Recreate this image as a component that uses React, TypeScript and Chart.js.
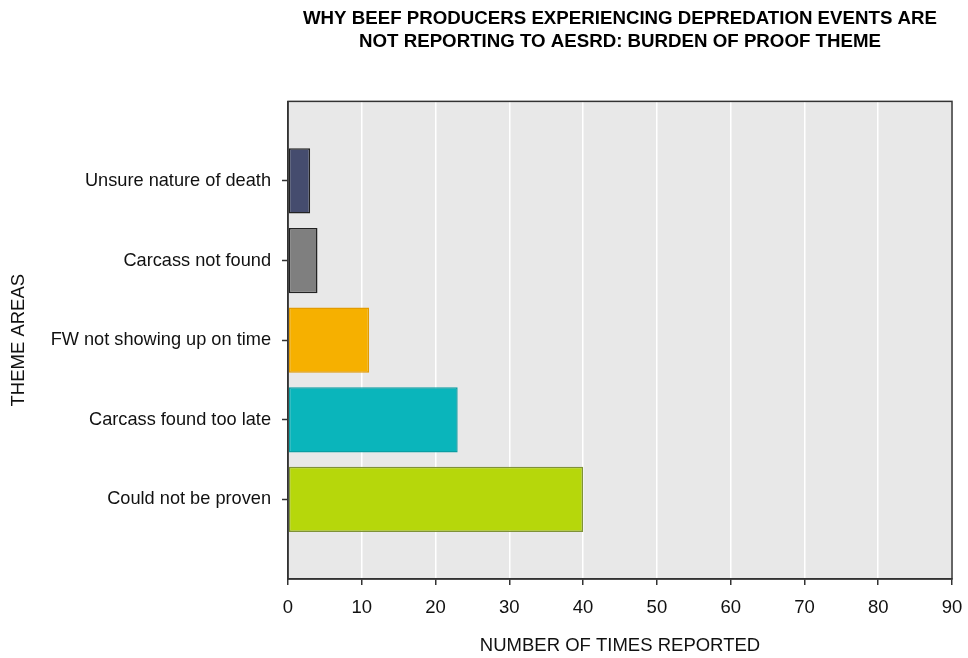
import React, { useEffect, useRef } from 'react';
import { Chart, registerables } from 'chart.js';

Chart.register(...registerables);

const TITLE_LINES = [
  'WHY BEEF PRODUCERS EXPERIENCING DEPREDATION EVENTS ARE',
  'NOT REPORTING TO AESRD: BURDEN OF PROOF THEME',
];
const CATEGORIES = [
  'Unsure nature of death',
  'Carcass not found',
  'FW not showing up on time',
  'Carcass found too late',
  'Could not be proven',
];
const VALUES = [3, 4, 11, 23, 40];
const BAR_COLORS = ['#454c6e', '#7f7f7f', '#f6b000', '#0ab5bb', '#b6d70b'];
const BAR_BORDERS = ['#222222', '#222222', '#e39b00', '#0a9ea3', '#7f9236'];
const X_MIN = 0;
const X_MAX = 90;
const X_STEP = 10;
const X_TITLE = 'NUMBER OF TIMES REPORTED';
const Y_TITLE = 'THEME AREAS';

const FONT = "'Liberation Sans', Arial, Helvetica, sans-serif";

const plotFrame = {
  id: 'plotFrame',
  beforeDraw(chart: any) {
    const { ctx, chartArea: a } = chart;
    ctx.save();
    ctx.fillStyle = '#e8e8e8';
    ctx.fillRect(a.left, a.top, a.right - a.left, a.bottom - a.top);
    ctx.restore();
  },
  afterDatasetsDraw(chart: any) {
    const { ctx, chartArea: a } = chart;
    ctx.save();
    ctx.strokeStyle = '#333333';
    ctx.lineWidth = 1.5;
    ctx.strokeRect(a.left, a.top, a.right - a.left, a.bottom - a.top);
    ctx.restore();
  },
};

export default function App() {
  const ref = useRef<HTMLCanvasElement | null>(null);

  useEffect(() => {
    document.body.style.margin = '0';
    const canvas = ref.current;
    if (!canvas) return;
    const labels = ['', ...CATEGORIES, ''];
    const data = [null, ...VALUES, null];
    const bg = ['transparent', ...BAR_COLORS, 'transparent'];
    const bd = ['transparent', ...BAR_BORDERS, 'transparent'];
    const chart = new Chart(canvas, {
      type: 'bar',
      data: {
        labels,
        datasets: [
          {
            data: data as any,
            backgroundColor: bg,
            borderColor: bd,
            borderWidth: 1.5,
            borderSkipped: false,
            barPercentage: 0.82,
            categoryPercentage: 1,
          },
        ],
      },
      options: {
        indexAxis: 'y',
        responsive: false,
        animation: false,
        devicePixelRatio: 1,
        layout: { padding: { left: 0, right: 16, top: 0, bottom: 0 } },
        plugins: {
          legend: { display: false },
          tooltip: { enabled: false },
          title: {
            display: true,
            text: TITLE_LINES,
            fullSize: false,
            color: '#000000',
            font: { family: FONT, size: 18.7, weight: 'bold', lineHeight: 1.24 },
            padding: { top: 7, bottom: 48 },
          },
        },
        scales: {
          x: {
            type: 'linear',
            min: X_MIN,
            max: X_MAX,
            ticks: {
              stepSize: X_STEP,
              color: '#111111',
              font: { family: FONT, size: 18.5 },
              padding: 12,
            },
            grid: {
              color: '#ffffff',
              lineWidth: 1.5,
              tickColor: '#333333',
              tickLength: 6,
              tickWidth: 1.5,
            },
            border: { color: '#333333', width: 1.5 },
            title: {
              display: true,
              text: X_TITLE,
              color: '#111111',
              font: { family: FONT, size: 18.5 },
              padding: { top: 0, bottom: 1 },
            },
            afterFit(scale: any) {
              scale.height = 79;
              scale.paddingLeft = 0;
              scale.paddingRight = 0;
            },
          },
          y: {
            type: 'category',
            offset: false,
            ticks: {
              color: '#111111',
              font: { family: FONT, size: 18.2 },
              padding: 11,
              autoSkip: false,
            },
            grid: {
              offset: false,
              drawOnChartArea: false,
              tickColor: '#333333',
              tickLength: 6,
              tickWidth: 1.5,
            },
            border: { color: '#333333', width: 1.5 },
            title: {
              display: true,
              text: Y_TITLE,
              color: '#111111',
              font: { family: FONT, size: 18.5 },
              padding: { top: 8, bottom: 0 },
            },
            afterBuildTicks(scale: any) {
              scale.ticks = scale.ticks.filter((t: any) => t.value > 0 && t.value < labels.length - 1);
            },
            afterFit(scale: any) {
              scale.width = 288;
              scale.paddingTop = 0;
              scale.paddingBottom = 0;
            },
          },
        },
      },
      plugins: [plotFrame],
    });
    return () => chart.destroy();
  }, []);

  return (
    <div style={{ width: 968, height: 658, background: '#ffffff' }}>
      <canvas ref={ref} width={968} height={658} style={{ display: 'block' }} />
    </div>
  );
}
